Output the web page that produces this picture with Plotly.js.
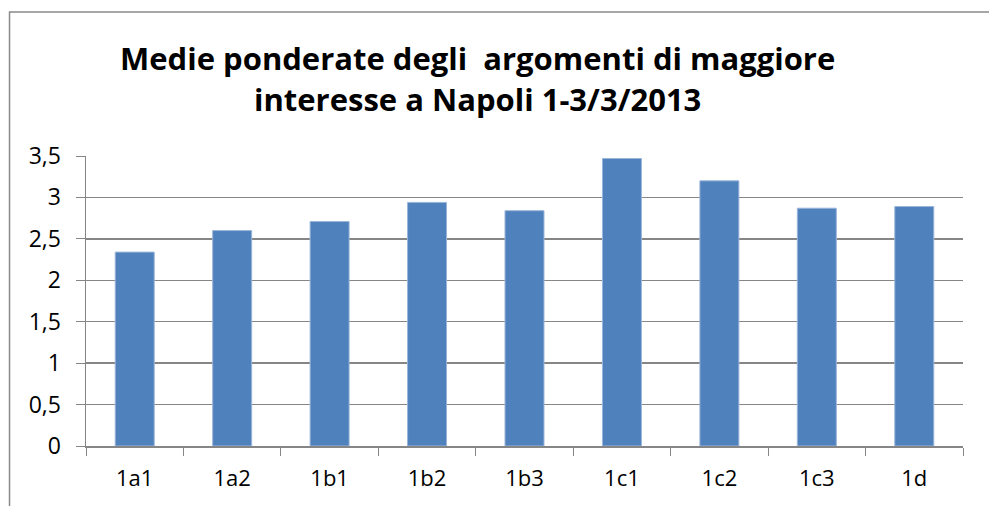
<!DOCTYPE html>
<html>
<head>
<meta charset="utf-8">
<script src="https://cdn.plot.ly/plotly-3.0.1.min.js"></script>
<style>
html,body{margin:0;padding:0;background:#fff;}
#chart{width:989px;height:506px;}
</style>
</head>
<body>
<div id="chart"></div>
<script>
var categories = ['1a1','1a2','1b1','1b2','1b3','1c1','1c2','1c3','1d'];
var values = [2.34, 2.60, 2.71, 2.94, 2.84, 3.47, 3.20, 2.87, 2.89];
var yTicks = [0, 0.5, 1, 1.5, 2, 2.5, 3, 3.5];
var titleText = 'Medie ponderate degli\u00a0 argomenti di maggiore<br>interesse a Napoli 1-3/3/2013';

var trace = {
  type: 'bar',
  x: categories,
  y: values,
  marker: {color: '#4F81BD', line: {color: '#9bb5d9', width: 1}},
  hoverinfo: 'none'
};

var gray = '#868686';
var layout = {
  width: 989,
  height: 506,
  margin: {l: 86, r: 26, t: 156, b: 60, pad: 0},
  paper_bgcolor: '#fff',
  plot_bgcolor: '#fff',
  separators: ',.',
  showlegend: false,
  bargap: 0.6,
  font: {family: 'Open Sans, sans-serif', color: '#000'},
  title: {
    text: titleText,
    font: {family: 'Open Sans, sans-serif', size: 31, color: '#000', weight: 'bold'},
    xref: 'container', x: 0.483, xanchor: 'center',
    yref: 'container', y: 0.861, yanchor: 'top'
  },
  xaxis: {
    type: 'category',
    range: [-0.5, 8.5],
    showline: true, linecolor: gray, linewidth: 1.5,
    ticks: 'outside', ticklen: 8, tickcolor: gray, tickwidth: 1,
    tickson: 'boundaries',
    showgrid: false,
    tickfont: {family: 'Open Sans, sans-serif', size: 22, color: '#000'},
    ticklabelstandoff: 12
  },
  yaxis: {
    range: [0, 3.5],
    tickvals: yTicks,
    showline: true, linecolor: gray, linewidth: 1.5,
    ticks: 'outside', ticklen: 9, tickcolor: gray, tickwidth: 1,
    showgrid: true, gridcolor: gray, gridwidth: 1.5,
    zeroline: false,
    tickfont: {family: 'Open Sans, sans-serif', size: 23, color: '#000'},
    ticklabelstandoff: 10
  },
  shapes: [{
    type: 'rect', xref: 'paper', yref: 'paper',
    x0: -0.0872, x1: 1.3, y0: -0.6, y1: 1.4966,
    line: {color: '#8a8a8a', width: 1.5},
    fillcolor: 'rgba(0,0,0,0)', layer: 'below'
  }]
};

Plotly.newPlot('chart', [trace], layout, {displayModeBar: false, staticPlot: true});
</script>
</body>
</html>
